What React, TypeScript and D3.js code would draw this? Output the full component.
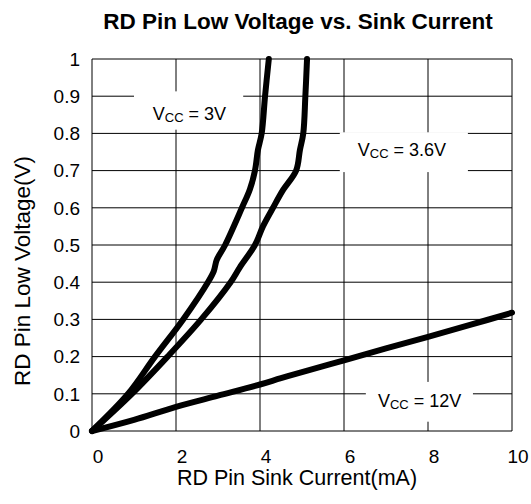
import React from "react";
import * as d3 from "d3";

const title = "RD Pin Low Voltage vs. Sink Current";
const xLabel = "RD Pin Sink Current(mA)";
const yLabel = "RD Pin Low Voltage(V)";
const xTicks = [0, 2, 4, 6, 8, 10];
const yTicks = [0, 0.1, 0.2, 0.3, 0.4, 0.5, 0.6, 0.7, 0.8, 0.9, 1];

const cur3V = [0, 0.86, 1.5, 2.17, 2.76, 2.9, 2.97, 3.17, 3.57, 3.76, 3.88, 3.95, 4.04, 4.12, 4.21];
const volt3V = [0, 0.1, 0.2, 0.3, 0.4, 0.43, 0.46, 0.5, 0.6, 0.65, 0.7, 0.755, 0.8, 0.9, 1.0];

const cur36V = [0, 0.95, 1.8, 2.6, 3.3, 3.52, 3.88, 4.07, 4.31, 4.55, 4.86, 4.95, 5.03, 5.08, 5.12];
const volt36V = [0, 0.1, 0.2, 0.3, 0.4, 0.44, 0.5, 0.55, 0.6, 0.648, 0.7, 0.755, 0.8, 0.9, 1.0];

const cur12V = [0, 1, 2, 3, 4, 4.5, 5, 6, 7, 8, 9, 10];
const volt12V = [0, 0.03, 0.065, 0.095, 0.125, 0.142, 0.158, 0.19, 0.222, 0.253, 0.285, 0.318];

const labels = [
  { main: "V", sub: "CC", rest: " = 3V", x: 2.32, y: 0.835, bx0: 1.0, bx1: 3.6, by0: 0.81, by1: 0.913 },
  { main: "V", sub: "CC", rest: " = 3.6V", x: 7.38, y: 0.738, bx0: 5.9, bx1: 8.95, by0: 0.696, by1: 0.803 },
  { main: "V", sub: "CC", rest: " = 12V", x: 7.8, y: 0.065, bx0: 6.52, bx1: 9.07, by0: 0.025, by1: 0.132 },
];

const W = 531;
const H = 504;
const m = { left: 92, top: 59, right: 19, bottom: 73 };
const FONT = "'Liberation Sans', Arial, sans-serif";

export default function App() {
  const x = d3.scaleLinear().domain([0, 10]).range([m.left, W - m.right]);
  const y = d3.scaleLinear().domain([0, 1]).range([H - m.bottom, m.top]);
  const line = d3
    .line<[number, number]>()
    .x((d) => x(d[0]))
    .y((d) => y(d[1]))
    .curve(d3.curveCatmullRom.alpha(0.5));
  const series = [
    d3.zip(cur3V, volt3V) as [number, number][],
    d3.zip(cur36V, volt36V) as [number, number][],
    d3.zip(cur12V, volt12V) as [number, number][],
  ];
  return (
    <svg width={W} height={H} style={{ position: "absolute", left: 0, top: 0, background: "#fff" }} fontFamily={FONT}>
      <rect x={0} y={0} width={W} height={H} fill="#fff" />
      <text x={298} y={29} textAnchor="middle" fontWeight="bold" fontSize={22.5}>
        {title}
      </text>
      {yTicks.map((t) => (
        <line key={"gy" + t} x1={x(0)} x2={x(10)} y1={y(t)} y2={y(t)} stroke="#000" strokeWidth={1} />
      ))}
      {xTicks.map((t) => (
        <line key={"gx" + t} x1={x(t)} x2={x(t)} y1={y(0)} y2={y(1)} stroke="#000" strokeWidth={1} />
      ))}
      {labels.map((l, i) => (
        <g key={"lb" + i}>
          <rect x={x(l.bx0)} y={y(l.by1)} width={x(l.bx1) - x(l.bx0)} height={y(l.by0) - y(l.by1)} fill="#fff" />
          <text x={x(l.x)} y={y(l.y)} textAnchor="middle" fontSize={18}>
            {l.main}
            <tspan fontSize={13} dy={2}>{l.sub}</tspan>
            <tspan dy={-2}>{l.rest}</tspan>
          </text>
        </g>
      ))}
      {series.map((s, i) => (
        <path key={"s" + i} d={line(s) || ""} fill="none" stroke="#000" strokeWidth={6} strokeLinejoin="round" strokeLinecap="round" />
      ))}
      {yTicks.map((t) => (
        <text key={"ty" + t} x={80} y={y(t)} dy="0.36em" textAnchor="end" fontSize={19}>
          {String(t)}
        </text>
      ))}
      {xTicks.map((t) => (
        <text key={"tx" + t} x={x(t) + 6} y={463} textAnchor="middle" fontSize={19}>
          {String(t)}
        </text>
      ))}
      <text x={297} y={485} textAnchor="middle" fontSize={21.5}>
        {xLabel}
      </text>
      <text transform={`translate(30,271) rotate(-90)`} textAnchor="middle" fontSize={22.5}>
        {yLabel}
      </text>
    </svg>
  );
}
